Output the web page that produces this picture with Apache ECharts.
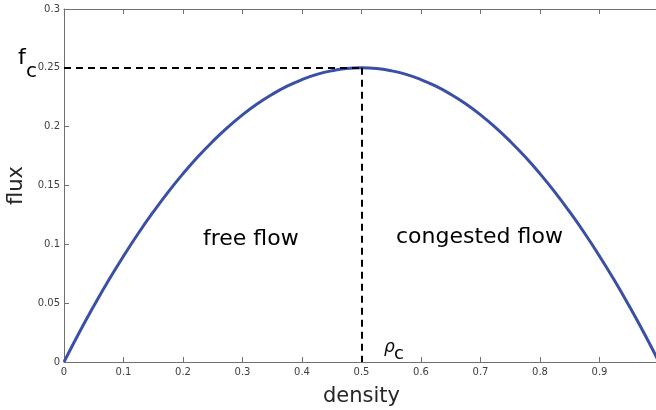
<!DOCTYPE html>
<html><head><meta charset="utf-8">
<script src="https://cdn.jsdelivr.net/npm/echarts@6/dist/echarts.min.js"></script>
<style>html,body{margin:0;padding:0;background:#fff}#c{width:656px;height:410px}</style>
</head><body><div id="c"></div>
<script>
// density values (x) and flux values (y)
const densities = [0,0.025,0.05,0.075,0.1,0.125,0.15,0.175,0.2,0.225,0.25,0.275,0.3,0.325,0.35,0.375,0.4,0.425,0.45,0.475,0.5,
  0.525,0.55,0.575,0.6,0.625,0.65,0.675,0.7,0.725,0.75,0.775,0.8,0.825,0.85,0.875,0.9,0.925,0.95,0.975,1];
const fluxes = [0,0.0244,0.0475,0.0694,0.09,0.1094,0.1275,0.1444,0.16,0.1744,0.1875,0.1994,0.21,0.2194,0.2275,0.2344,0.24,0.2444,0.2475,0.2494,0.25,
  0.2494,0.2475,0.2444,0.24,0.2344,0.2275,0.2194,0.21,0.1994,0.1875,0.1744,0.16,0.1444,0.1275,0.1094,0.09,0.0694,0.0475,0.0244,0];
const criticalDensity = 0.5;
const criticalFlux = 0.25;
const xTicks = {min:0, max:1, interval:0.1};
const yTicks = {min:0, max:0.3, interval:0.05};

const font = 'DejaVu Sans';
const axisGray = '#707070';
const chart = echarts.init(document.getElementById('c'), null, {renderer:'canvas'});
const points = densities.map((d,i)=>[d, fluxes[i]]);
chart.setOption({
  animation:false,
  grid:{left:64, top:9, width:595, height:353, containLabel:false, outerBoundsMode:'none'},
  xAxis:[{
    type:'value', min:xTicks.min, max:xTicks.max, interval:xTicks.interval, position:'bottom',
    name:'density', nameLocation:'middle', nameGap:24,
    nameTextStyle:{fontFamily:font, fontSize:21, color:'#262626'},
    axisLine:{show:true, onZero:false, lineStyle:{color:axisGray, width:1}},
    axisTick:{show:true, inside:true, length:5, lineStyle:{color:axisGray}},
    axisLabel:{fontFamily:font, fontSize:10, color:'#404040', margin:5, showMaxLabel:false},
    splitLine:{show:false}
  },{
    type:'value', min:xTicks.min, max:xTicks.max, interval:xTicks.interval, position:'top',
    axisLine:{show:true, onZero:false, lineStyle:{color:axisGray, width:1}},
    axisTick:{show:true, inside:true, length:5, lineStyle:{color:axisGray}},
    axisLabel:{show:false}, splitLine:{show:false}
  }],
  yAxis:[{
    type:'value', min:yTicks.min, max:yTicks.max, interval:yTicks.interval,
    name:'flux', nameLocation:'middle', nameGap:20, nameRotate:90,
    nameTextStyle:{fontFamily:font, fontSize:21, color:'#262626'},
    axisLine:{show:true, onZero:false, lineStyle:{color:axisGray, width:1}},
    axisTick:{show:true, inside:true, length:5, lineStyle:{color:axisGray}},
    axisLabel:{fontFamily:font, fontSize:10, color:'#404040', margin:4},
    splitLine:{show:false}
  }],
  series:[{
    type:'line', data:points, smooth:true, showSymbol:false, symbol:'none',
    lineStyle:{color:'#3a4fa6', width:3},
    markLine:{
      silent:true, symbol:'none', label:{show:false},
      lineStyle:{color:'#000', width:2, type:[7,5]},
      data:[
        [{coord:[0, criticalFlux]},{coord:[criticalDensity, criticalFlux]}],
        [{coord:[criticalDensity, criticalFlux]},{coord:[criticalDensity, 0]}]
      ]
    }
  }],
  graphic:[
    {type:'text', left:18, top:47, style:{text:'f', fontFamily:font, fontSize:22, fill:'#000'}},
    {type:'text', left:26, top:62, style:{text:'c', fontFamily:font, fontSize:20, fill:'#000'}},
    {type:'text', left:203, top:228, style:{text:'free flow', fontFamily:font, fontSize:22, fill:'#000'}},
    {type:'text', left:396, top:226, style:{text:'congested flow', fontFamily:font, fontSize:22, fill:'#000'}},
    {type:'text', left:384, top:339, style:{text:'ρ', fontFamily:font, fontSize:17, fontStyle:'italic', fill:'#000'}},
    {type:'text', left:394, top:345, style:{text:'c', fontFamily:font, fontSize:18, fill:'#000'}}
  ]
});
</script></body></html>
